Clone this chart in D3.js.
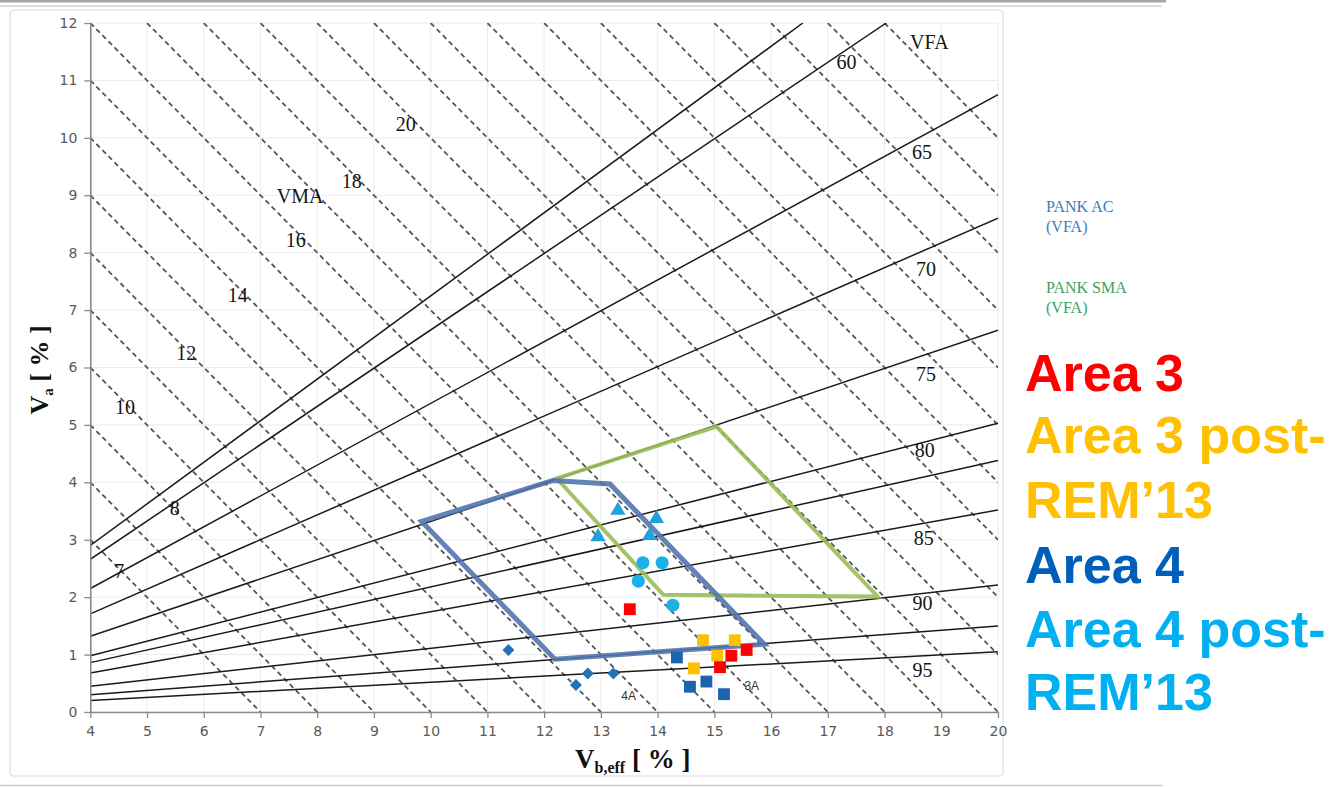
<!DOCTYPE html>
<html>
<head>
<meta charset="utf-8">
<script src="https://cdn.jsdelivr.net/npm/d3@7"></script>
<style>
  html, body { margin: 0; padding: 0; background: #fff; }
  svg { display: block; }
</style>
</head>
<body>
<svg id="chart" width="1334" height="788"></svg>
<script>
// ---------------- data ----------------
const xTicks = [4,5,6,7,8,9,10,11,12,13,14,15,16,17,18,19,20];
const yTicks = [0,1,2,3,4,5,6,7,8,9,10,11,12];

// VMA iso-lines (dashed): Va + Vb,eff = VMA
const vmaLevels = [7,8,9,10,11,12,13,14,15,16,17,18,19,20,21,22,23,24,25,26,27,28,29,30];

// VFA iso-lines (solid): start at Vb,eff = 4, end point read at plot border
const vfaLevels  = [58, 60, 65, 70, 75, 80, 82, 85, 90, 93, 95];
const vfaLeftVa  = [2.90, 2.66, 2.15, 1.71, 1.32, 0.98, 0.86, 0.68, 0.45, 0.30, 0.20];
const vfaRightPt = [[16.56,12],[18.03,12],[20,10.75],[20,8.60],[20,6.65],[20,5.03],
                    [20,4.38],[20,3.52],[20,2.21],[20,1.50],[20,1.05]];

// Specification boxes
const pankAC  = [[9.84,3.32],[12.15,4.03],[13.16,3.97],[15.88,1.18],[12.19,0.92]];
const pankSMA = [[12.22,4.07],[15.04,4.97],[17.88,2.01],[14.10,2.04]];

// Measured mixtures [Vb,eff, Va]
const area3        = [[13.51,1.79],[15.30,0.98],[15.57,1.08],[15.10,0.78]];
const area3post    = [[14.80,1.25],[15.36,1.25],[15.05,0.98],[14.64,0.76]];
const area4sq      = [[14.34,0.95],[14.57,0.44],[14.86,0.53],[15.17,0.31]];
const area4dia     = [[11.37,1.08],[12.77,0.67],[13.22,0.67],[12.56,0.47]];
const area4postTri = [[13.30,3.51],[13.98,3.37],[12.95,3.05],[13.86,3.07]];
const area4postCir = [[13.74,2.60],[14.08,2.60],[13.66,2.28],[14.27,1.86]];

// In-plot labels, in data coordinates
const vmaLabels = [["VMA",7.70,8.86],["7",4.51,2.33],["8",5.49,3.43],["10",4.61,5.19],["12",5.69,6.13],
                   ["14",6.60,7.14],["16",7.62,8.10],["18",8.61,9.13],["20",9.56,10.12]];
const vfaLabels = [["VFA",18.79,11.55],["60",17.33,11.20],["65",18.66,9.63],["70",18.73,7.59],["75",18.73,5.76],
                   ["80",18.71,4.44],["85",18.69,2.91],["90",18.67,1.78],["95",18.67,0.61]];
const groupLabels = [["4A",13.49,0.21],["3A",15.66,0.38]];

const legendSmall = [["PANK AC","(VFA)"],["PANK SMA","(VFA)"]];
const legendBig = ["Area 3","Area 3 post-","REM\u201913","Area 4","Area 4 post-","REM\u201913"];

// ---------------- drawing ----------------
const svg = d3.select("#chart");
const L = 90.3, R = 998, T = 23, B = 712;
const x = d3.scaleLinear().domain([4,20]).range([L,R]);
const y = d3.scaleLinear().domain([0,12]).range([B,T]);

// page frame
svg.append("line").attr("x1",0).attr("x2",1166).attr("y1",1.2).attr("y2",1.2)
  .attr("stroke","#a6a6a6").attr("stroke-width",2.4);
svg.append("line").attr("x1",0).attr("x2",1162).attr("y1",6).attr("y2",6)
  .attr("stroke","#d4d4d4").attr("stroke-width",1.5);
svg.append("rect").attr("x",10).attr("y",10).attr("width",993).attr("height",766).attr("rx",4)
  .attr("fill","none").attr("stroke","#dcdcdc").attr("stroke-width",1.2);
svg.append("line").attr("x1",0).attr("x2",1162).attr("y1",785.5).attr("y2",785.5)
  .attr("stroke","#c8c8c8").attr("stroke-width",1.5);

svg.append("defs").append("clipPath").attr("id","plotclip")
  .append("rect").attr("x",L).attr("y",T).attr("width",R-L).attr("height",B-T);

// grid
const grid = svg.append("g");
grid.selectAll("line.vx").data(xTicks).join("line")
  .attr("x1",d=>x(d)).attr("x2",d=>x(d)).attr("y1",T).attr("y2",B)
  .attr("stroke","#ebebeb").attr("stroke-width",1);
grid.selectAll("line.hy").data(yTicks).join("line")
  .attr("x1",L).attr("x2",R).attr("y1",d=>y(d)).attr("y2",d=>y(d))
  .attr("stroke","#ebebeb").attr("stroke-width",1);

const plot = svg.append("g").attr("clip-path","url(#plotclip)");

// VMA dashed lines, clipped to the plot domain
const [x0,x1] = x.domain(), [y0,y1] = y.domain();
function vmaSeg(v){
  const xa = Math.max(x0, v - y1), xb = Math.min(x1, v - y0);
  return [[xa, v - xa],[xb, v - xb]];
}
const lineGen = d3.line().x(d=>x(d[0])).y(d=>y(d[1]));
plot.selectAll("path.vma").data(vmaLevels).join("path")
  .attr("d", v => lineGen(vmaSeg(v)))
  .attr("fill","none").attr("stroke","#555").attr("stroke-width",1.8)
  .attr("stroke-dasharray","5,3.6");

// VFA solid lines
plot.selectAll("path.vfa").data(vfaLevels).join("path")
  .attr("d", (v,i) => lineGen([[4, vfaLeftVa[i]], vfaRightPt[i]]))
  .attr("fill","none").attr("stroke","#1a1a1a").attr("stroke-width",1.5);

// axes
const yAxis = svg.append("g").attr("transform",`translate(${L},0)`)
  .call(d3.axisLeft(y).tickValues(yTicks).tickSize(6).tickPadding(7).tickSizeOuter(0));
const xAxis = svg.append("g").attr("transform",`translate(0,${B})`)
  .call(d3.axisBottom(x).tickValues(xTicks).tickSize(6).tickPadding(8).tickSizeOuter(0));
[yAxis,xAxis].forEach(a=>{
  a.select(".domain").attr("stroke","#8a8a8a").attr("stroke-width",1.6);
  a.selectAll(".tick line").attr("stroke","#8a8a8a").attr("stroke-width",1.3);
  a.selectAll(".tick text").attr("fill","#5a5a5a").style("font-family","'DejaVu Sans', sans-serif")
    .style("font-size","14px");
});

// polygons
const polyGen = d3.line().x(d=>x(d[0])).y(d=>y(d[1])).curve(d3.curveLinearClosed);
svg.append("path").attr("d", polyGen(pankSMA))
  .attr("fill","none").attr("stroke","#9bbb59").attr("stroke-width",4).attr("stroke-opacity",0.9)
  .attr("stroke-linejoin","miter");
svg.append("path").attr("d", polyGen(pankAC))
  .attr("fill","none").attr("stroke","#5274ad").attr("stroke-width",5).attr("stroke-opacity",0.9)
  .attr("stroke-linejoin","miter");

// markers
function markers(data, type, size, color, rot){
  svg.append("g").selectAll("path").data(data).join("path")
    .attr("transform", d => `translate(${x(d[0])},${y(d[1])}) rotate(${rot||0})`)
    .attr("d", d3.symbol().type(type).size(size))
    .attr("fill", color);
}
markers(area4dia, d3.symbolSquare, 72, "#2274b8", 45);
markers(area4sq, d3.symbolSquare, 140, "#1b64ae");
markers(area3post, d3.symbolSquare, 140, "#ffc000");
markers(area3, d3.symbolSquare, 140, "#ff0000");
markers(area4postTri, d3.symbolTriangle, 100, "#22a0dc");
markers(area4postCir, d3.symbolCircle, 135, "#1cb0ea");

// in-plot labels
const serif = "'Liberation Serif', 'Times New Roman', serif";
svg.append("g").selectAll("text").data(vmaLabels.concat(vfaLabels)).join("text")
  .attr("x", d=>x(d[1])).attr("y", d=>y(d[2])).attr("text-anchor","middle")
  .style("font-family", serif).style("font-size","20px").attr("fill","#141414")
  .text(d=>d[0]);
svg.append("g").selectAll("text").data(groupLabels).join("text")
  .attr("x", d=>x(d[1])).attr("y", d=>y(d[2])).attr("text-anchor","middle")
  .style("font-family","'Liberation Sans', Arial, sans-serif").style("font-size","12px").attr("fill","#333")
  .text(d=>d[0]);

// axis titles
const yt = svg.append("text").attr("transform","translate(48,370) rotate(-90)").attr("text-anchor","middle")
  .style("font-family", serif).style("font-weight","bold").style("font-size","26px").attr("fill","#111");
yt.append("tspan").text("V");
yt.append("tspan").attr("dy",5).style("font-size","15px").text("a");
yt.append("tspan").attr("dy",-5).text(" [ % ]");

const xt = svg.append("text").attr("x",575).attr("y",768)
  .style("font-family", serif).style("font-weight","bold").style("font-size","27px").attr("fill","#111");
xt.append("tspan").text("V");
xt.append("tspan").attr("dy",5).style("font-size","16px").text("b,eff");
xt.append("tspan").attr("dy",-5).text(" [ % ]");

// small legend texts
const smallColors = ["#3b7cc0","#3ca266"];
const smallY = [212, 293];
legendSmall.forEach((lines,i)=>{
  const t = svg.append("text").attr("x",1046).attr("y",smallY[i])
    .style("font-family", serif).style("font-size","16px").attr("fill",smallColors[i]);
  lines.forEach((s,j)=> t.append("tspan").attr("x",1046).attr("dy", j===0?0:19.5).text(s));
});

// big legend texts
const bigColors = ["#ff0000","#ffc000","#ffc000","#005fb8","#00b0f0","#00b0f0"];
const bigY = [391, 453, 518, 583, 647, 710];
svg.append("g").selectAll("text").data(legendBig).join("text")
  .attr("x",1025).attr("y",(d,i)=>bigY[i])
  .style("font-family","'Liberation Sans', Arial, sans-serif").style("font-weight","bold")
  .style("font-size","52px").attr("fill",(d,i)=>bigColors[i])
  .text(d=>d);
</script>
</body>
</html>
